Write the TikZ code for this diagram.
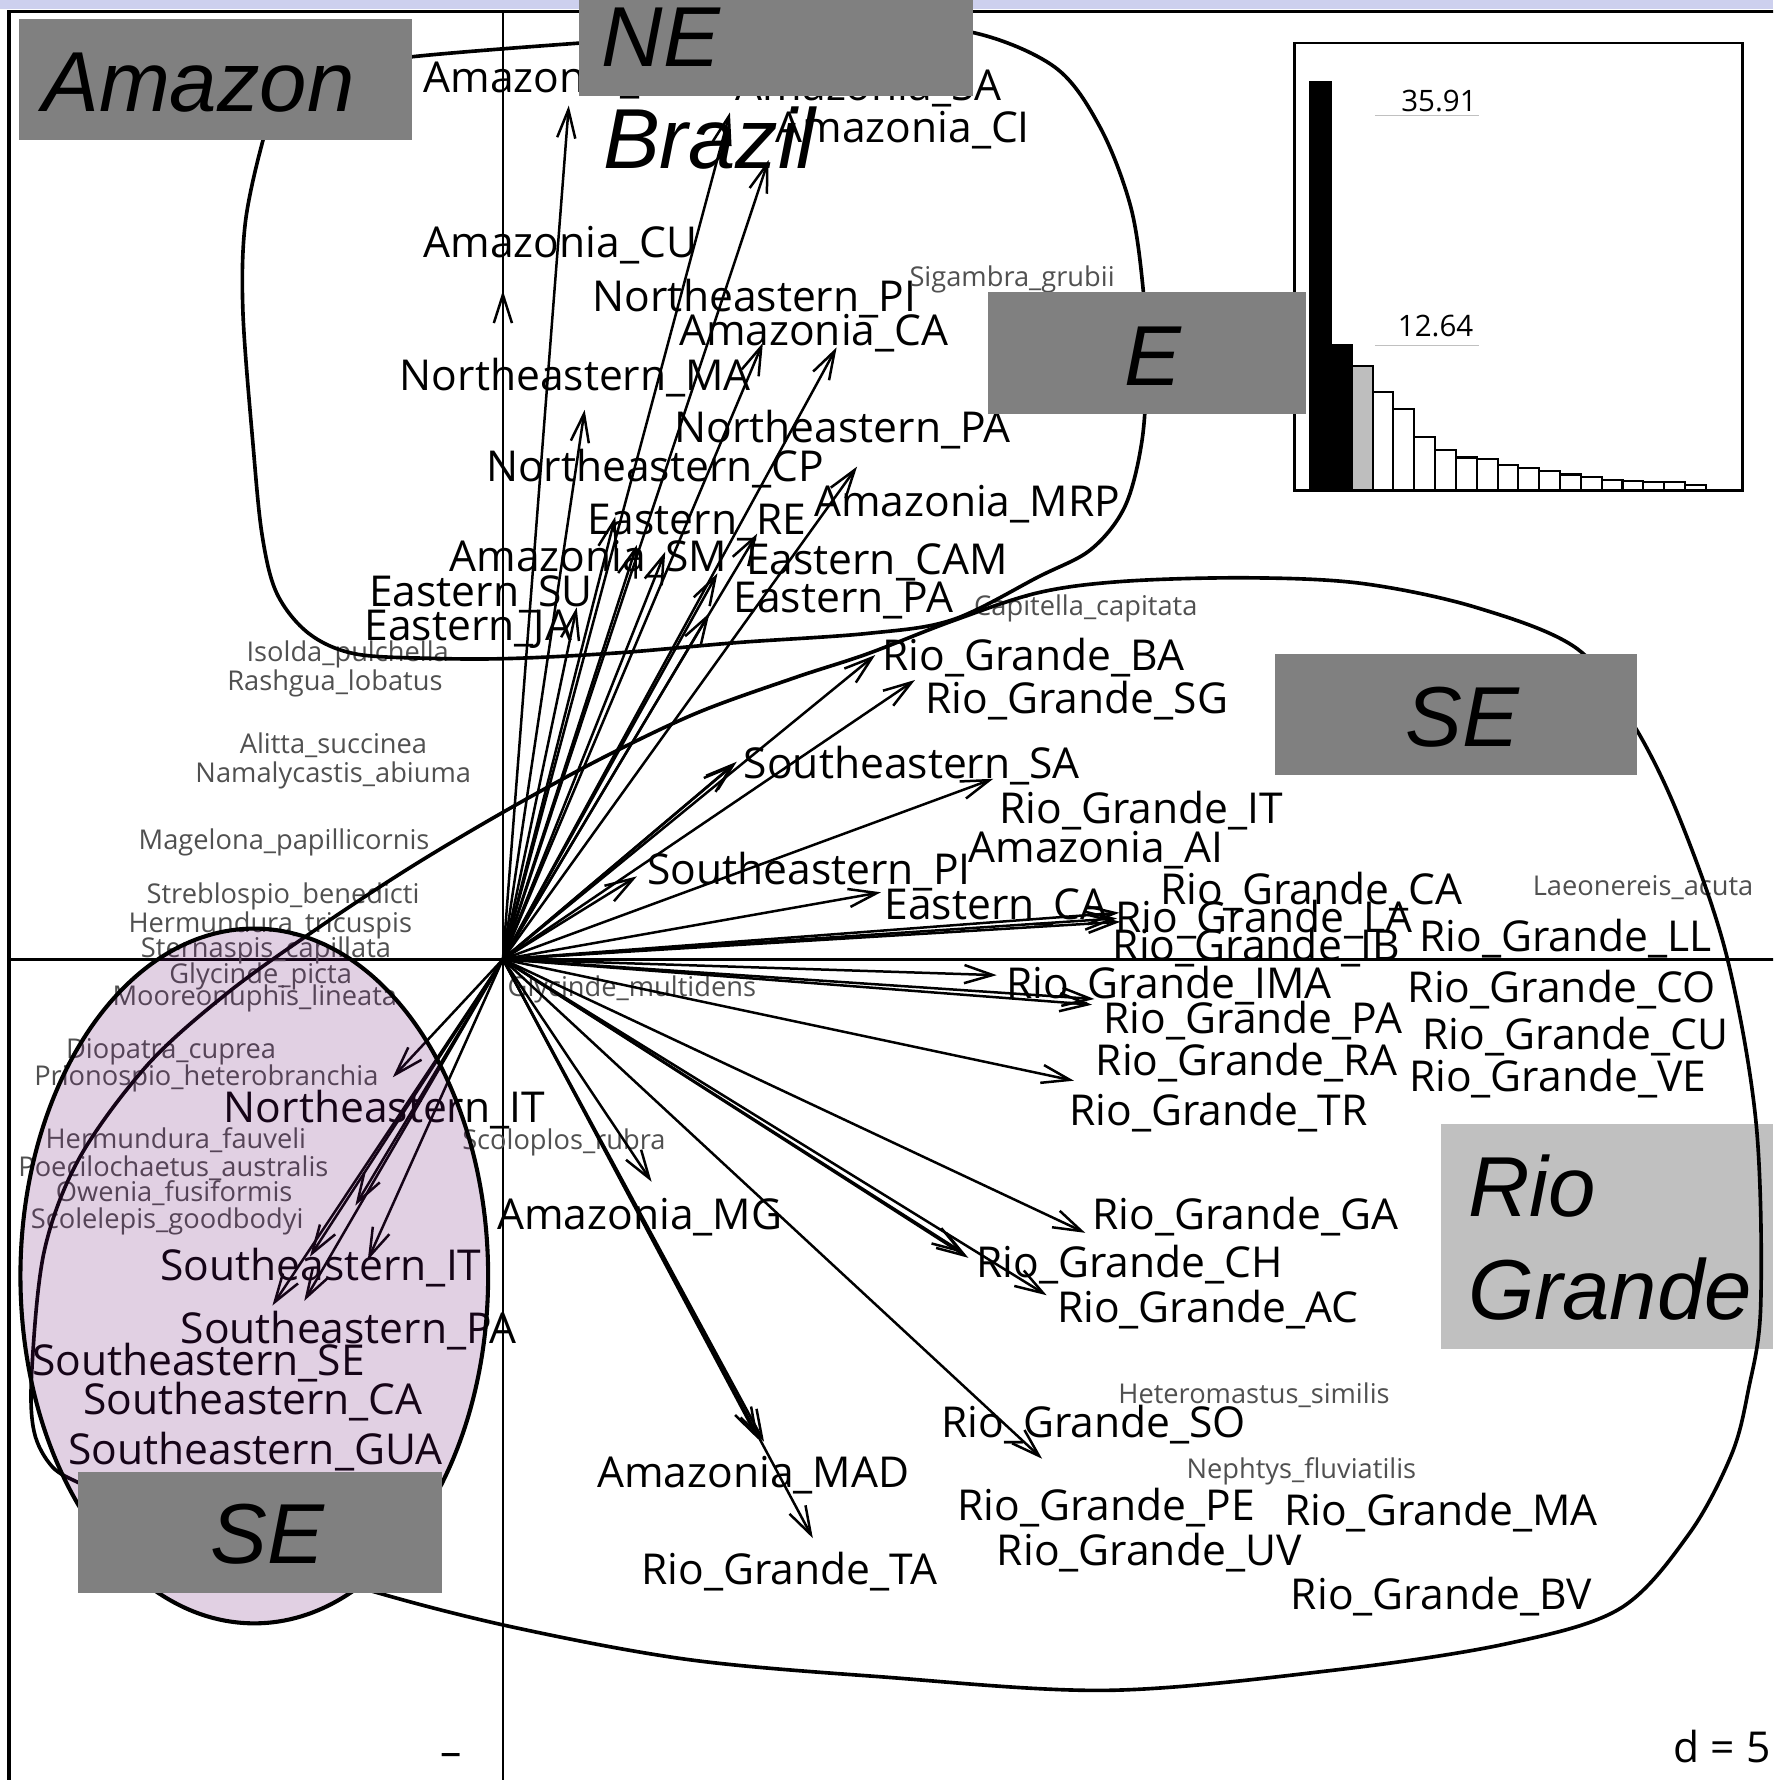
\documentclass[tikz,border=0pt]{standalone}
\usepackage{fontspec}
\newfontfamily\labfont{Open Sans}
\newfontfamily\regfont{Liberation Sans}
\usetikzlibrary{arrows.meta}
\definecolor{boxgray}{RGB}{128,128,128}
\definecolor{lightbox}{RGB}{192,192,192}
\definecolor{spgray}{RGB}{80,80,80}
\definecolor{band}{RGB}{205,208,238}
\definecolor{tint}{RGB}{105,20,115}
\definecolor{barg}{RGB}{190,190,190}
\begin{document}
\begin{tikzpicture}[x=1pt,y=-1pt,
  lab/.style={font=\labfont\fontsize{37.5}{37.5}\selectfont, inner sep=0pt, anchor=base west},
  sp/.style={font=\labfont\fontsize{24}{24}\selectfont, text=spgray, inner sep=0pt, anchor=base west},
  reg/.style={font=\regfont\itshape\fontsize{75}{75}\selectfont, inner sep=0pt, anchor=base west},
  arr/.style={line width=2.2pt, -{Straight Barb[length=25pt,width=16pt]}},
  hull/.style={line width=3.2pt, line join=round},
  gbox/.style={fill=boxgray, draw=none},
]
\useasboundingbox (0,0) rectangle (1562,1568);
\clip (0,0) rectangle (1562,1568);
\fill[white] (0,0) rectangle (1562,1568);
\fill[band] (0,0) rectangle (1562,8);

% light Rio Grande box (below curve)
\fill[lightbox] (1269,990) rectangle (1562,1188);

% frame and axes
\draw[line width=2.8pt] (8,10) rectangle (1620,1620);
\draw[line width=2.4pt] (443,10) -- (443,1620);
\draw[line width=2.4pt] (8,845) -- (1620,845);

% eigenvalue bar chart
\draw[line width=2.4pt] (1140,38) rectangle (1535,432);
\foreach \h/\c [count=\i] in {72/black,304/black,322/barg,345/white,360/white,385/white,396/white,403/white,404/white,410/white,412/white,415/white,418/white,420/white,423/white,424/white,425/white,425/white,427/white}
  {\draw[line width=1.8pt, fill=\c] ({1154+(\i-1)*18.35},432) rectangle ({1154+\i*18.35},\h);}
\draw[lightbox, line width=1pt] (1211,102) -- (1303,102);
\draw[lightbox, line width=1pt] (1211,304) -- (1303,304);
\node[font=\labfont\fontsize{26}{26}\selectfont, inner sep=0pt, anchor=base east] (ev1) at (1301,98.5) {35.91};
\node[font=\labfont\fontsize{26}{26}\selectfont, inner sep=0pt, anchor=base east] (ev2) at (1298,296) {12.64};

% main labels
\foreach \x/\y/\t [count=\i] in {
373/68/Amazonia\_, 648/75/Amazonia\_SA, 683/112/Amazonia\_CI, 373/213/Amazonia\_CU,
522/261/Northeastern\_PI, 598/291/Amazonia\_CA, 352/331/Northeastern\_MA, 594/376/Northeastern\_PA,
428/411/Northeastern\_CP, 517/457/Eastern\_RE, 717/442/Amazonia\_MRP, 396/490/Amazonia\_SM,
657/493/Eastern\_CAM, 325/521/Eastern\_SU, 646/526/Eastern\_PA, 321/551/Eastern\_JA,
777/577/Rio\_Grande\_BA, 815/615/Rio\_Grande\_SG, 655/672/Southeastern\_SA, 880/712/Rio\_Grande\_IT,
853/746/Amazonia\_AI, 570/766/Southeastern\_PI, 1022/783/Rio\_Grande\_CA, 779/797/Eastern\_CA,
982/808/Rio\_Grande\_LA, 980/833/Rio\_Grande\_IB, 1250/825/Rio\_Grande\_LL, 886/866/Rio\_Grande\_IMA,
1240/870/Rio\_Grande\_CO, 972/897/Rio\_Grande\_PA, 1253/911/Rio\_Grande\_CU, 965/934/Rio\_Grande\_RA,
1241/948/Rio\_Grande\_VE, 942/978/Rio\_Grande\_TR, 197/975/Northeastern\_IT, 438/1070/Amazonia\_MG,
962/1070/Rio\_Grande\_GA, 860/1112/Rio\_Grande\_CH, 931/1152/Rio\_Grande\_AC, 141/1115/Southeastern\_IT,
159/1170/Southeastern\_PA, 28/1198/Southeastern\_SE, 73/1233/Southeastern\_CA, 60/1277/Southeastern\_GUA,
829/1253/Rio\_Grande\_SO, 526/1297/Amazonia\_MAD, 843/1326/Rio\_Grande\_PE, 1131/1330/Rio\_Grande\_MA,
878/1366/Rio\_Grande\_UV, 565/1382/Rio\_Grande\_TA, 1137/1404/Rio\_Grande\_BV}
  {\node[lab] (L\i) at (\x,\y+13.4) {\t};}

% species labels
\foreach \x/\y/\t [count=\i] in {
801/244/Sigambra\_grubii, 858/534/Capitella\_capitata, 217/574/Isolda\_pulchella, 200/600/Rashgua\_lobatus,
211/655/Alitta\_succinea, 172/681/Namalycastis\_abiuma, 122/740/Magelona\_papillicornis,
129/787/Streblospio\_benedicti, 113/813/Hermundura\_tricuspis, 124/835/Sternaspis\_capillata,
149/858/Glycinde\_picta, 99/877/Mooreonuphis\_lineata, 447/869/Glycinde\_multidens,
58/924/Diopatra\_cuprea, 30/948/Prionospio\_heterobranchia, 40/1003/Hermundura\_fauveli,
16/1028/Poecilochaetus\_australis, 49/1050/Owenia\_fusiformis, 27/1074/Scolelepis\_goodbodyi,
407/1004/Scoloplos\_rubra, 1350/780/Laeonereis\_acuta, 985/1228/Heteromastus\_similis,
1045/1294/Nephtys\_fluviatilis}
  {\node[sp] (S\i) at (\x,\y+8.6) {\t};}

\node[lab, anchor=base east] (scale) at (1560,1553) {d = 5};
\node[lab, anchor=center] (dash) at (397,1550) {–};

% arrows from origin
\coordinate (O) at (443,845);
\foreach \x/\y [count=\i] in {
443/256, 501/93, 643/99, 677/141, 515/361, 672/302, 737/306, 755/411, 542/455, 561/480,
586/486, 667/470, 632/505, 625/540, 508/535,
771/577, 806/599, 649/671, 647/673, 875/686, 561/772, 776/786, 986/804, 984/809, 987/812,
878/859, 964/880, 962/885, 946/952, 956/1086, 853/1108, 849/1104, 922/1141, 918/1285,
574/1041, 673/1270, 668/1268, 716/1355,
346/949, 313/1062, 273/1107, 324/1110, 240/1150, 268/1146}
  {\coordinate (t\i) at (\x,\y); \draw[arr] (O) -- (t\i);}

% northern hull
\draw[hull] plot[smooth cycle, tension=0.55] coordinates {
(231,126) (216,197) (214,275) (223,393) (231,472) (244,523) (272,558) (313,576) (383,580)
(452,580) (546,575) (650,566) (764,558) (839,546) (915,508) (961,484) (991,446) (1006,388)
(1010,320) (1007,255) (996,182) (969,112) (929,59) (854,28) (760,25) (600,33) (510,38)
(363,50) (290,62) (245,88)};

% southern hull
\draw[hull] plot[smooth cycle, tension=0.55] coordinates {
(1101,509) (1200,514) (1300,535) (1390,572) (1440,640) (1480,722) (1521,842) (1547,990)
(1551,1150) (1540,1225) (1525,1282) (1488,1351) (1427,1417) (1327,1448) (1177,1471)
(976,1489) (775,1477) (607,1462) (455,1434) (329,1402) (200,1360) (110,1325) (71,1307)
(46,1292) (30,1261) (28,1208) (39,1102) (70,1020) (130,938) (200,875) (275,821) (360,765)
(444,715) (530,668) (614,628) (700,597) (764,576) (839,547) (915,522) (991,512)};

\node[reg] (brazil) at (531,148) {Brazil};

% SE ellipse
\fill[tint, fill opacity=0.2] (224,1124) ellipse [x radius=206, y radius=306];
\draw[line width=3.6pt] (224,1124) ellipse [x radius=206, y radius=306];

% region boxes
\fill[gbox] (17,17) rectangle (363,123);
\node[reg] (amazon) at (37,98) {Amazon};
\fill[gbox] (510,-5) rectangle (857,85);
\node[reg] (ne) at (530,59) {NE};
\fill[gbox] (870,257) rectangle (1150,365);
\node[reg] (e) at (990,340) {E};
\fill[gbox] (1123,576) rectangle (1442,683);
\node[reg] (se1) at (1238,658) {SE};
\fill[gbox] (69,1297) rectangle (389,1403);
\node[reg] (se2) at (185,1377) {SE};
\node[reg] (rio) at (1293,1072) {Rio};
\node[reg] (grande) at (1293,1162) {Grande};
\end{tikzpicture}
\end{document}
